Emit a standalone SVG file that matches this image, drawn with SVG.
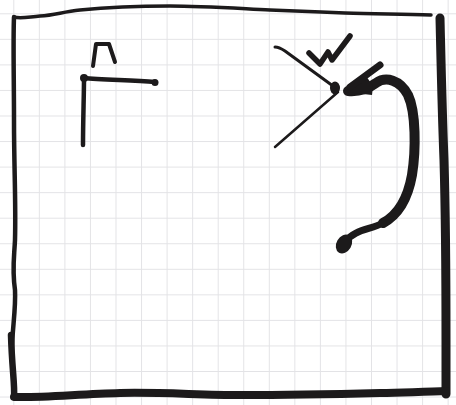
<svg xmlns="http://www.w3.org/2000/svg" width="456" height="405" viewBox="0 0 456 405">
<defs>
<pattern id="grid" patternUnits="userSpaceOnUse" x="13.3" y="13.3" width="25.55" height="25.55">
<path d="M0.5,0 V25.55 M0,0.5 H25.55" fill="none" stroke="#e3e3e6" stroke-width="1"/>
</pattern>
<style>
.ink{fill:none;stroke:#1c1a1b;stroke-linecap:round;stroke-linejoin:round}
.blob{fill:#1c1a1b}
</style>
</defs>
<rect width="456" height="405" fill="#ffffff"/>
<rect width="456" height="405" fill="url(#grid)"/>
<g id="frame">
<path class="ink" stroke-width="3.5" d="M14,17 C20,19 28,17 40,16 C55,15 62,12 80,10 C110,7 140,6 170,6 C200,6 230,8 270,10 C300,11 320,12 345,13 C375,14 400,14 431,15"/>
<path class="ink" stroke-width="4.5" d="M14,17 C13,40 14,80 14,120 C14,170 16,200 15,240 C14,260 12,270 15,290 C16,310 12,330 12,350 C12,370 15,385 14,397"/>
<path class="ink" stroke-width="6.5" d="M11,335 C12,370 15,385 14,397"/>
<path class="ink" stroke-width="9" d="M440,18 C441,60 442,110 444,160 C446,230 446,300 446,340 C446,370 446,385 446,394"/>
<path class="ink" stroke-width="8" d="M14,397 C40,398 80,394 120,393 C160,392 200,395 240,395 C290,395 340,394 380,393 C410,392 430,392 446,391"/>
</g>
<g id="left-figure">
<path class="ink" stroke-width="4.5" d="M84,78 C84,95 83,120 83,145"/>
<path class="ink" stroke-width="4.5" d="M84,78 C100,80 130,80 155,82"/>
<circle class="blob" cx="84" cy="78" r="4"/>
<circle class="blob" cx="155" cy="82.5" r="3.5"/>
<path class="ink" stroke-width="4" d="M93,66 L96,44 L109,44 L115,62"/>
</g>
<g id="right-figure">
<path class="ink" stroke-width="3" d="M275,47 C279,47 282,49 285,51 L333,86"/>
<path class="ink" stroke-width="2.5" d="M275,147 L338,92"/>
<ellipse class="blob" cx="335" cy="88" rx="5" ry="6.5"/>
<path class="ink" stroke-width="5.5" d="M309,53 L320,64 L328,52 L332,60 L350,36"/>
<path class="ink" stroke-width="10" d="M348,91 C360,92 368,89 376,83 C386,76 400,80 408,95 C416,112 416,150 412,175 C407,203 396,216 383,223"/>
<path class="ink" stroke-width="7" d="M383,223 C370,230 355,229 345,242"/>
<path class="blob" d="M345,92 L366,76 L373,86 L372,95 Z"/>
<path class="ink" stroke-width="7" d="M350,87 L380,65"/>
<ellipse class="blob" cx="344" cy="244" rx="7.5" ry="10" transform="rotate(30 344 244)"/>
</g>
</svg>
